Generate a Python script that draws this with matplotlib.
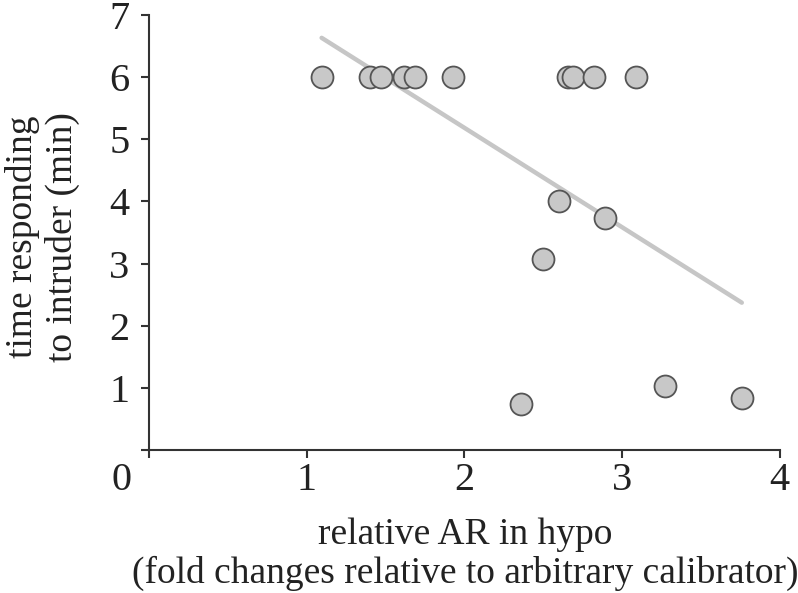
import matplotlib
matplotlib.use('Agg')
import matplotlib.pyplot as plt
from matplotlib.transforms import offset_copy

# data
ar_fold = [1.10, 1.40, 1.47, 1.62, 1.69, 1.93, 2.66, 2.69, 2.82, 3.09,
           2.60, 2.89, 2.50, 2.36, 3.27, 3.76]
time_min = [6.0, 6.0, 6.0, 6.0, 6.0, 6.0, 6.0, 6.0, 6.0, 6.0,
            4.0, 3.73, 3.07, 0.74, 1.03, 0.83]

# regression line ends
trend_x = [1.095, 3.76]
trend_y = [6.63, 2.37]

x_ticks = [0, 1, 2, 3, 4]
y_ticks = [1, 2, 3, 4, 5, 6, 7]

plt.rcParams['font.family'] = ['Liberation Serif', 'DejaVu Serif']

fig = plt.figure(figsize=(7.98, 5.93), dpi=100)
ax = fig.add_axes([0.1867, 0.2411, 0.977 - 0.1867, 0.975 - 0.2411])

ax.plot(trend_x, trend_y, color='#c6c6c6', lw=3.2, solid_capstyle='round', zorder=1)
ax.scatter(ar_fold, time_min, s=250, facecolor='#c8c8c8', edgecolor='#555555',
           linewidth=1.3, zorder=2)

ax.set_xlim(0, 4)
ax.set_ylim(0, 7)
ax.set_xticks(x_ticks)
ax.set_yticks([0] + y_ticks)
ax.set_xticklabels(['' for _ in x_ticks])
ax.set_yticklabels([''] + [str(t) for t in y_ticks])

for sp in ['top', 'right']:
    ax.spines[sp].set_visible(False)
for sp in ['left', 'bottom']:
    ax.spines[sp].set_linewidth(1.5)
    ax.spines[sp].set_color('#333333')

ax.tick_params(axis='both', direction='out', length=6, width=1.5, color='#333333',
               labelsize=29, labelcolor='#222222')
ax.tick_params(axis='y', pad=8)

# x tick labels; the "0" sits left of the origin as in the original
for t in x_ticks:
    dx = -27 if t == 0 else 0
    tr = offset_copy(ax.get_xaxis_transform(), fig=fig, x=dx, y=-30, units='dots')
    ax.text(t, 0, str(t), transform=tr, ha='center', va='center',
            fontsize=29, color='#222222')

fig.text(0.5827, 0.004, 'relative AR in hypo\n(fold changes relative to arbitrary calibrator)',
         ha='center', va='bottom', fontsize=27, color='#222222', linespacing=1.12)
fig.text(0.053, 0.60, 'time responding\nto intruder (min)', rotation=90,
         ha='center', va='center', fontsize=27, color='#222222', linespacing=1.2)

fig.savefig('out.png', dpi=100)
